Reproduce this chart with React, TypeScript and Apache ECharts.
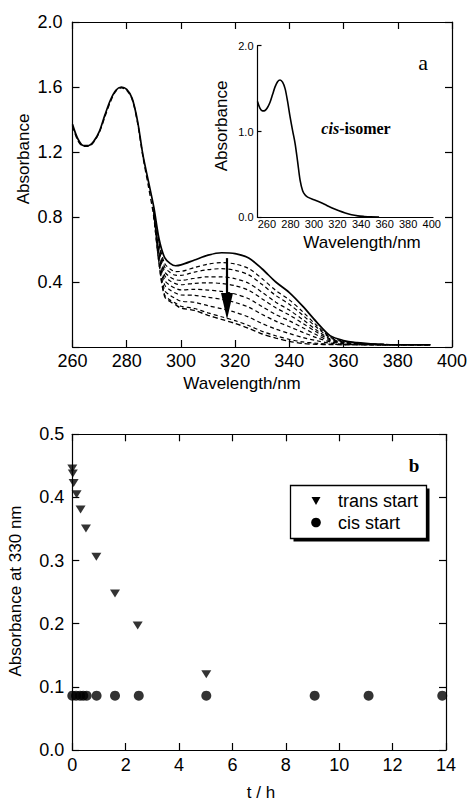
import React, { useEffect, useRef } from "react";
import * as echarts from "echarts";

// ---------- Panel a: spectra ----------
const wavelengthStart = [260, 262, 264, 266, 268, 270, 272, 274, 276, 278, 280, 282, 284, 286, 288, 290, 292, 294, 296, 298, 300, 305, 310, 315, 320, 325, 330, 335, 340, 345, 350, 355, 360, 365, 370, 375];
const absStart = [1.37, 1.28, 1.24, 1.24, 1.27, 1.33, 1.43, 1.52, 1.58, 1.6, 1.585, 1.53, 1.39, 1.18, 1.02, 0.86, 0.66, 0.55, 0.515, 0.5, 0.505, 0.535, 0.565, 0.58, 0.575, 0.548, 0.48, 0.4, 0.335, 0.25, 0.155, 0.07, 0.04, 0.027, 0.02, 0.017];

const wavelengthDecay = [290, 292, 294, 296, 298, 300, 305, 310, 315, 320, 325, 330, 335, 340, 345, 350, 355, 360, 370, 380, 392];
const absDecay1 = [0.851, 0.636, 0.514, 0.48, 0.464, 0.465, 0.489, 0.51, 0.519, 0.511, 0.483, 0.42, 0.348, 0.29, 0.216, 0.134, 0.062, 0.036, 0.019, 0.015, 0.015];
const absDecay2 = [0.846, 0.622, 0.492, 0.459, 0.442, 0.441, 0.461, 0.476, 0.482, 0.472, 0.444, 0.384, 0.317, 0.263, 0.195, 0.122, 0.057, 0.034, 0.018, 0.015, 0.014];
const absDecay3 = [0.838, 0.602, 0.464, 0.43, 0.414, 0.41, 0.423, 0.432, 0.432, 0.42, 0.392, 0.336, 0.276, 0.227, 0.168, 0.105, 0.05, 0.031, 0.017, 0.014, 0.014];
const absDecay4 = [0.832, 0.586, 0.44, 0.407, 0.39, 0.383, 0.392, 0.395, 0.391, 0.377, 0.349, 0.296, 0.241, 0.197, 0.145, 0.092, 0.045, 0.028, 0.017, 0.014, 0.014];
const absDecay5 = [0.825, 0.567, 0.411, 0.379, 0.361, 0.351, 0.355, 0.35, 0.342, 0.326, 0.297, 0.248, 0.2, 0.161, 0.118, 0.075, 0.038, 0.025, 0.016, 0.014, 0.013];
const absDecay6 = [0.818, 0.548, 0.382, 0.351, 0.332, 0.32, 0.318, 0.306, 0.293, 0.274, 0.245, 0.2, 0.159, 0.125, 0.09, 0.058, 0.032, 0.022, 0.015, 0.013, 0.013];
const absDecay7 = [0.81, 0.526, 0.348, 0.318, 0.298, 0.282, 0.275, 0.254, 0.236, 0.214, 0.184, 0.144, 0.11, 0.083, 0.058, 0.039, 0.024, 0.018, 0.014, 0.013, 0.013];
const absDecay8 = [0.802, 0.506, 0.32, 0.289, 0.27, 0.251, 0.237, 0.21, 0.186, 0.162, 0.132, 0.096, 0.069, 0.047, 0.031, 0.023, 0.017, 0.015, 0.013, 0.013, 0.013];

const wavelengthFull = [260, 262, 264, 266, 268, 270, 272, 274, 276, 278, 280, 282, 284, 286, 288, 290, 292, 294, 296, 298, 300, 305, 310, 315, 320, 325, 330, 335, 340, 345, 350, 355, 360, 370, 380, 392];
const absEnd = [1.36, 1.27, 1.235, 1.235, 1.265, 1.325, 1.42, 1.51, 1.575, 1.595, 1.58, 1.525, 1.38, 1.17, 0.99, 0.8, 0.5, 0.31, 0.28, 0.26, 0.24, 0.225, 0.195, 0.17, 0.145, 0.115, 0.08, 0.055, 0.035, 0.022, 0.017, 0.015, 0.014, 0.013, 0.013, 0.013];

// inset: cis-isomer
const wavelengthCis = [260, 262, 264, 266, 268, 270, 272, 274, 276, 278, 280, 282, 284, 286, 288, 290, 292, 294, 296, 298, 300, 305, 310, 315, 320, 325, 330, 335, 340, 345, 350, 357];
const absCis = [1.35, 1.27, 1.24, 1.245, 1.28, 1.34, 1.43, 1.52, 1.58, 1.6, 1.575, 1.5, 1.35, 1.17, 1.01, 0.86, 0.65, 0.43, 0.31, 0.26, 0.235, 0.205, 0.175, 0.14, 0.105, 0.075, 0.05, 0.03, 0.017, 0.01, 0.005, 0.003];
const insetTickLabels = [260, 280, 300, 320, 340, 360, 380, 400];

// arrow (wavelength, absorbance)
const arrowWavelength = 317;
const arrowFrom = 0.547;
const arrowTo = 0.169;
const arrowHeadStart = 0.333;

// ---------- Panel b: kinetics ----------
const transTime = [0, 0.02, 0.05, 0.16, 0.31, 0.51, 0.9, 1.6, 2.45, 5.02];
const transAbs = [0.446, 0.438, 0.423, 0.405, 0.381, 0.351, 0.306, 0.248, 0.197, 0.12];
const cisTime = [0, 0.14, 0.29, 0.41, 0.54, 0.91, 1.6, 2.49, 5.02, 9.08, 11.1, 13.86];
const cisAbs = [0.086, 0.086, 0.086, 0.086, 0.086, 0.086, 0.086, 0.086, 0.086, 0.086, 0.086, 0.086];

const SANS = "Liberation Sans, Arial, sans-serif";
const SERIF = "Liberation Serif, Times New Roman, serif";

const zip = (xs: number[], ys: number[]) => xs.map((x, i) => [x, ys[i]]);

const axisLineStyle = { color: "#000", width: 1.2 };

function mkAxis(extra: any) {
  return {
    type: "value",
    splitLine: { show: false },
    axisLine: { show: true, onZero: false, lineStyle: axisLineStyle },
    axisTick: { show: true, inside: true, length: 7, lineStyle: axisLineStyle },
    axisLabel: { show: true, color: "#000", fontFamily: SANS, fontSize: 18 },
    ...extra,
  };
}

export default function App() {
  const ref = useRef<HTMLDivElement>(null);

  useEffect(() => {
    if (!ref.current) return;
    const chart = echarts.init(ref.current, undefined, { renderer: "svg" });

    const dashed = (name: string, data: number[]) => ({
      name,
      type: "line",
      xAxisIndex: 0,
      yAxisIndex: 0,
      showSymbol: false,
      smooth: 0.3,
      data: zip(wavelengthDecay, data),
      lineStyle: { color: "#000", width: 1.2, type: [4, 3] },
    });

    const baseGraphic: any[] = [
      {
        id: "nameA_y", type: "text", x: 23, y: 159, rotation: Math.PI / 2,
        style: { text: "Absorbance", fontFamily: SANS, fontSize: 17, fill: "#000", align: "center", verticalAlign: "middle" },
      },
      {
        id: "nameA_x", type: "text", x: 242, y: 383,
        style: { text: "Wavelength/nm", fontFamily: SANS, fontSize: 17, fill: "#000", align: "center", verticalAlign: "middle" },
      },
      {
        id: "nameI_y", type: "text", x: 221, y: 126, rotation: Math.PI / 2,
        style: { text: "Absorbance", fontFamily: SANS, fontSize: 17, fill: "#000", align: "center", verticalAlign: "middle" },
      },
      {
        id: "nameI_x", type: "text", x: 362, y: 242,
        style: { text: "Wavelength/nm", fontFamily: SANS, fontSize: 17, fill: "#000", align: "center", verticalAlign: "middle" },
      },
      {
        id: "cisIsomer", type: "text", x: 356, y: 128,
        style: {
          text: "{i|cis}-isomer", fontFamily: SERIF, fontSize: 16, fontWeight: "bold", fill: "#000",
          align: "center", verticalAlign: "middle",
          rich: { i: { fontFamily: SERIF, fontSize: 16, fontWeight: "bold", fontStyle: "italic", fill: "#000" } },
        },
      },
      {
        id: "labelA", type: "text", x: 423, y: 62,
        style: { text: "a", fontFamily: SERIF, fontSize: 22, fill: "#000", align: "center", verticalAlign: "middle" },
      },
      {
        id: "nameB_y", type: "text", x: 15, y: 591, rotation: Math.PI / 2,
        style: { text: "Absorbance at 330 nm", fontFamily: SANS, fontSize: 17, fill: "#000", align: "center", verticalAlign: "middle" },
      },
      {
        id: "nameB_x", type: "text", x: 261, y: 792,
        style: { text: "t / h", fontFamily: SANS, fontSize: 17, fill: "#000", align: "center", verticalAlign: "middle" },
      },
      {
        id: "labelB", type: "text", x: 414, y: 465,
        style: { text: "b", fontFamily: SERIF, fontSize: 19, fontWeight: "bold", fill: "#000", align: "center", verticalAlign: "middle" },
      },
      { id: "legShadow", type: "rect", shape: { x: 293.5, y: 488.5, width: 136, height: 53 }, style: { fill: "#000" }, z: 10 },
      { id: "legBox", type: "rect", shape: { x: 290.5, y: 485.5, width: 136, height: 53 }, style: { fill: "#fff", stroke: "#000", lineWidth: 1.3 }, z: 11 },
      {
        id: "legTri", type: "polygon", shape: { points: [[311.5, 497], [320.5, 497], [316, 505]] },
        style: { fill: "#000" }, z: 12,
      },
      { id: "legCirc", type: "circle", shape: { cx: 316, cy: 522.5, r: 4.8 }, style: { fill: "#000" }, z: 12 },
      {
        id: "legT1", type: "text", x: 338, y: 501, z: 12,
        style: { text: "trans start", fontFamily: SANS, fontSize: 18, fill: "#000", align: "left", verticalAlign: "middle" },
      },
      {
        id: "legT2", type: "text", x: 338, y: 523, z: 12,
        style: { text: "cis start", fontFamily: SANS, fontSize: 18, fill: "#000", align: "left", verticalAlign: "middle" },
      },
    ];

    const option: any = {
      animation: false,
      backgroundColor: "#fff",
      grid: [
        { left: 72.5, top: 22, width: 382.5, height: 325 },
        { left: 257.5, top: 45.7, width: 175.5, height: 171.6 },
        { left: 72.3, top: 434.3, width: 373.7, height: 315.7 },
      ],
      xAxis: [
        mkAxis({ gridIndex: 0, min: 260, max: 400, interval: 20, axisLabel: { color: "#000", fontFamily: SANS, fontSize: 18, margin: 5 } }),
        mkAxis({ gridIndex: 0, position: "top", min: 260, max: 400, interval: 20, axisLabel: { show: false } }),
        mkAxis({
          gridIndex: 1, min: 260, max: 400, interval: 20,
          axisTick: { show: false },
          axisLabel: { show: false },
        }),
        mkAxis({ gridIndex: 2, min: 0, max: 14, interval: 2, axisLabel: { color: "#000", fontFamily: SANS, fontSize: 18, margin: 6 } }),
        mkAxis({ gridIndex: 2, position: "top", min: 0, max: 14, interval: 2, axisLabel: { show: false } }),
        // inset tick labels as printed in the original (slightly compressed scale)
        {
          type: "value", gridIndex: 1, position: "bottom", min: 252, max: 401.1,
          splitLine: { show: false },
          axisLine: { show: false },
          axisTick: { show: false },
          axisLabel: { color: "#000", fontFamily: SANS, fontSize: 11, margin: 1, customValues: insetTickLabels },
        },
      ],
      yAxis: [
        mkAxis({
          gridIndex: 0, min: 0, max: 2, interval: 0.4,
          axisLabel: {
            color: "#000", fontFamily: SANS, fontSize: 18, margin: 10,
            formatter: (v: number) => (v === 0 ? "" : v.toFixed(1)),
          },
        }),
        mkAxis({ gridIndex: 0, position: "right", min: 0, max: 2, interval: 0.4, axisLabel: { show: false } }),
        mkAxis({
          gridIndex: 1, min: 0, max: 2, interval: 1,
          axisTick: { show: true, inside: true, length: 4, lineStyle: axisLineStyle },
          axisLabel: { color: "#000", fontFamily: SANS, fontSize: 11, margin: 4, formatter: (v: number) => v.toFixed(1) },
        }),
        mkAxis({
          gridIndex: 2, min: 0, max: 0.5, interval: 0.1,
          axisLabel: { color: "#000", fontFamily: SANS, fontSize: 18, margin: 8, formatter: (v: number) => v.toFixed(1) },
        }),
        mkAxis({ gridIndex: 2, position: "right", min: 0, max: 0.5, interval: 0.1, axisLabel: { show: false } }),
      ],
      series: [
        {
          name: "t = 0",
          type: "line", xAxisIndex: 0, yAxisIndex: 0, showSymbol: false, smooth: 0.3,
          data: zip(wavelengthStart, absStart),
          lineStyle: { color: "#000", width: 1.7 },
          z: 5,
        },
        dashed("decay 1", absDecay1),
        dashed("decay 2", absDecay2),
        dashed("decay 3", absDecay3),
        dashed("decay 4", absDecay4),
        dashed("decay 5", absDecay5),
        dashed("decay 6", absDecay6),
        dashed("decay 7", absDecay7),
        dashed("decay 8", absDecay8),
        {
          name: "final",
          type: "line", xAxisIndex: 0, yAxisIndex: 0, showSymbol: false, smooth: 0.3,
          data: zip(wavelengthFull, absEnd),
          lineStyle: { color: "#000", width: 1.4, type: [5, 3] },
        },
        {
          name: "cis-isomer",
          type: "line", xAxisIndex: 2, yAxisIndex: 2, showSymbol: false, smooth: 0.3,
          data: zip(wavelengthCis, absCis),
          lineStyle: { color: "#000", width: 1.6 },
        },
        {
          name: "trans start",
          type: "scatter", xAxisIndex: 3, yAxisIndex: 3, clip: false,
          symbol: "triangle", symbolRotate: 180, symbolSize: [10, 8],
          itemStyle: { color: "#000" },
          data: zip(transTime, transAbs),
        },
        {
          name: "cis start",
          type: "scatter", xAxisIndex: 3, yAxisIndex: 3, clip: false,
          symbol: "circle", symbolSize: 10,
          itemStyle: { color: "#000" },
          data: zip(cisTime, cisAbs),
        },
      ],
      graphic: baseGraphic,
    };

    chart.setOption(option);

    const pTop = chart.convertToPixel({ gridIndex: 0 } as any, [arrowWavelength, arrowFrom]) as number[];
    const pHead = chart.convertToPixel({ gridIndex: 0 } as any, [arrowWavelength, arrowHeadStart]) as number[];
    const pTip = chart.convertToPixel({ gridIndex: 0 } as any, [arrowWavelength, arrowTo]) as number[];
    if (pTop && pHead && pTip) {
      chart.setOption({
        graphic: [
          ...baseGraphic,
          {
            id: "arrowShaft", type: "line", z: 20,
            shape: { x1: pTop[0], y1: pTop[1], x2: pHead[0], y2: pHead[1] + 2 },
            style: { stroke: "#000", lineWidth: 2.2 },
          },
          {
            id: "arrowHead", type: "polygon", z: 20,
            shape: { points: [[pHead[0] - 6, pHead[1]], [pHead[0] + 6, pHead[1]], [pTip[0], pTip[1]]] },
            style: { fill: "#000" },
          },
        ],
      });
    }

    return () => chart.dispose();
  }, []);

  return (
    <div
      ref={ref}
      style={{ position: "absolute", left: 0, top: 0, width: 470, height: 800, background: "#fff" }}
    />
  );
}
